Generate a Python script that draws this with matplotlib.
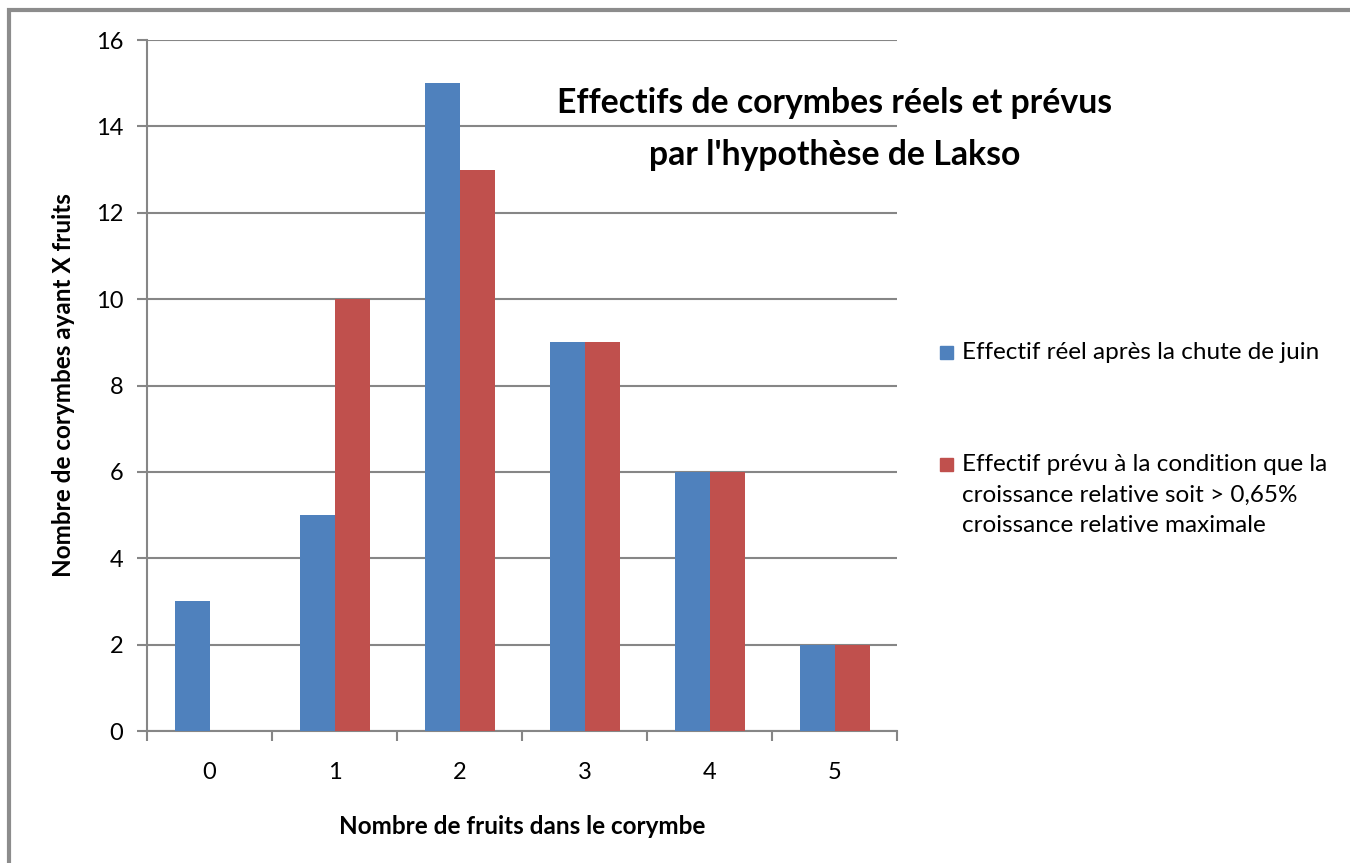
import matplotlib.pyplot as plt
import numpy as np
from matplotlib.patches import Rectangle

plt.rcParams['font.family'] = ['Lato', 'DejaVu Sans']

categories = ['0', '1', '2', '3', '4', '5']
reel = [3, 5, 15, 9, 6, 2]
prevu = [0, 10, 13, 9, 6, 2]
labels = ["Effectif réel après la chute de juin",
          "Effectif prévu à la condition que la\ncroissance relative soit > 0,65%\ncroissance relative maximale"]
colors = ['#4F81BD', '#C0504D']
title_lines = ["Effectifs de corymbes réels et prévus", "par l'hypothèse de Lakso"]

W, H = 1350, 863
fig = plt.figure(figsize=(13.5, 8.63), dpi=100)
ax = fig.add_axes([147 / W, 1 - 731 / H, 750 / W, 691 / H])

x = np.arange(len(categories))
bw = 0.28
ax.bar(x - bw / 2, reel, bw, color=colors[0], zorder=3)
ax.bar(x + bw / 2, prevu, bw, color=colors[1], zorder=3)

ax.set_xlim(-0.5, 5.5)
ax.set_ylim(0, 16)
ax.set_yticks(range(0, 17, 2))
ax.set_xticks(x)
ax.set_xticklabels(categories)
ax.set_xticks(np.arange(-0.5, 6, 1), minor=True)
ax.tick_params(axis='x', which='major', length=0, pad=22, labelsize=17)
ax.tick_params(axis='x', which='minor', length=7, width=1.5, color='#868686', direction='out')
ax.tick_params(axis='y', length=7, width=1.5, color='#868686', labelsize=17, pad=10)
ax.grid(axis='y', color='#868686', linewidth=1.5, zorder=0)
for s in ['top', 'right']:
    ax.spines[s].set_visible(False)
for s in ['left', 'bottom']:
    ax.spines[s].set_color('#868686')
    ax.spines[s].set_linewidth(1.5)

ax.set_ylabel("Nombre de corymbes ayant X fruits", fontsize=17.5, fontweight='bold', labelpad=15)
ax.set_xlabel("Nombre de fruits dans le corymbe", fontsize=17.5, fontweight='bold', labelpad=23)

for t, yy in zip(title_lines, [103, 155]):
    fig.text(835 / W, 1 - yy / H, t, ha='center', va='center', fontsize=24.3, fontweight='bold')

# legend drawn by hand
for i, (lab, c) in enumerate(zip(labels, colors)):
    yy = [352, 464][i]
    fig.patches.append(Rectangle((940 / W, 1 - (yy + 7) / H), 13 / W, 13 / H,
                                 transform=fig.transFigure, color=c))
    fig.text(962 / W, 1 - (yy - 10) / H, lab, ha='left', va='top', fontsize=17.5, linespacing=1.55)

# outer frame
fig.patches.append(Rectangle((9 / W, -0.1), 1.2, 1 - 10 / H + 0.1, transform=fig.transFigure,
                             fill=False, edgecolor='#8c8c8c', linewidth=3))

fig.savefig('out.png')
